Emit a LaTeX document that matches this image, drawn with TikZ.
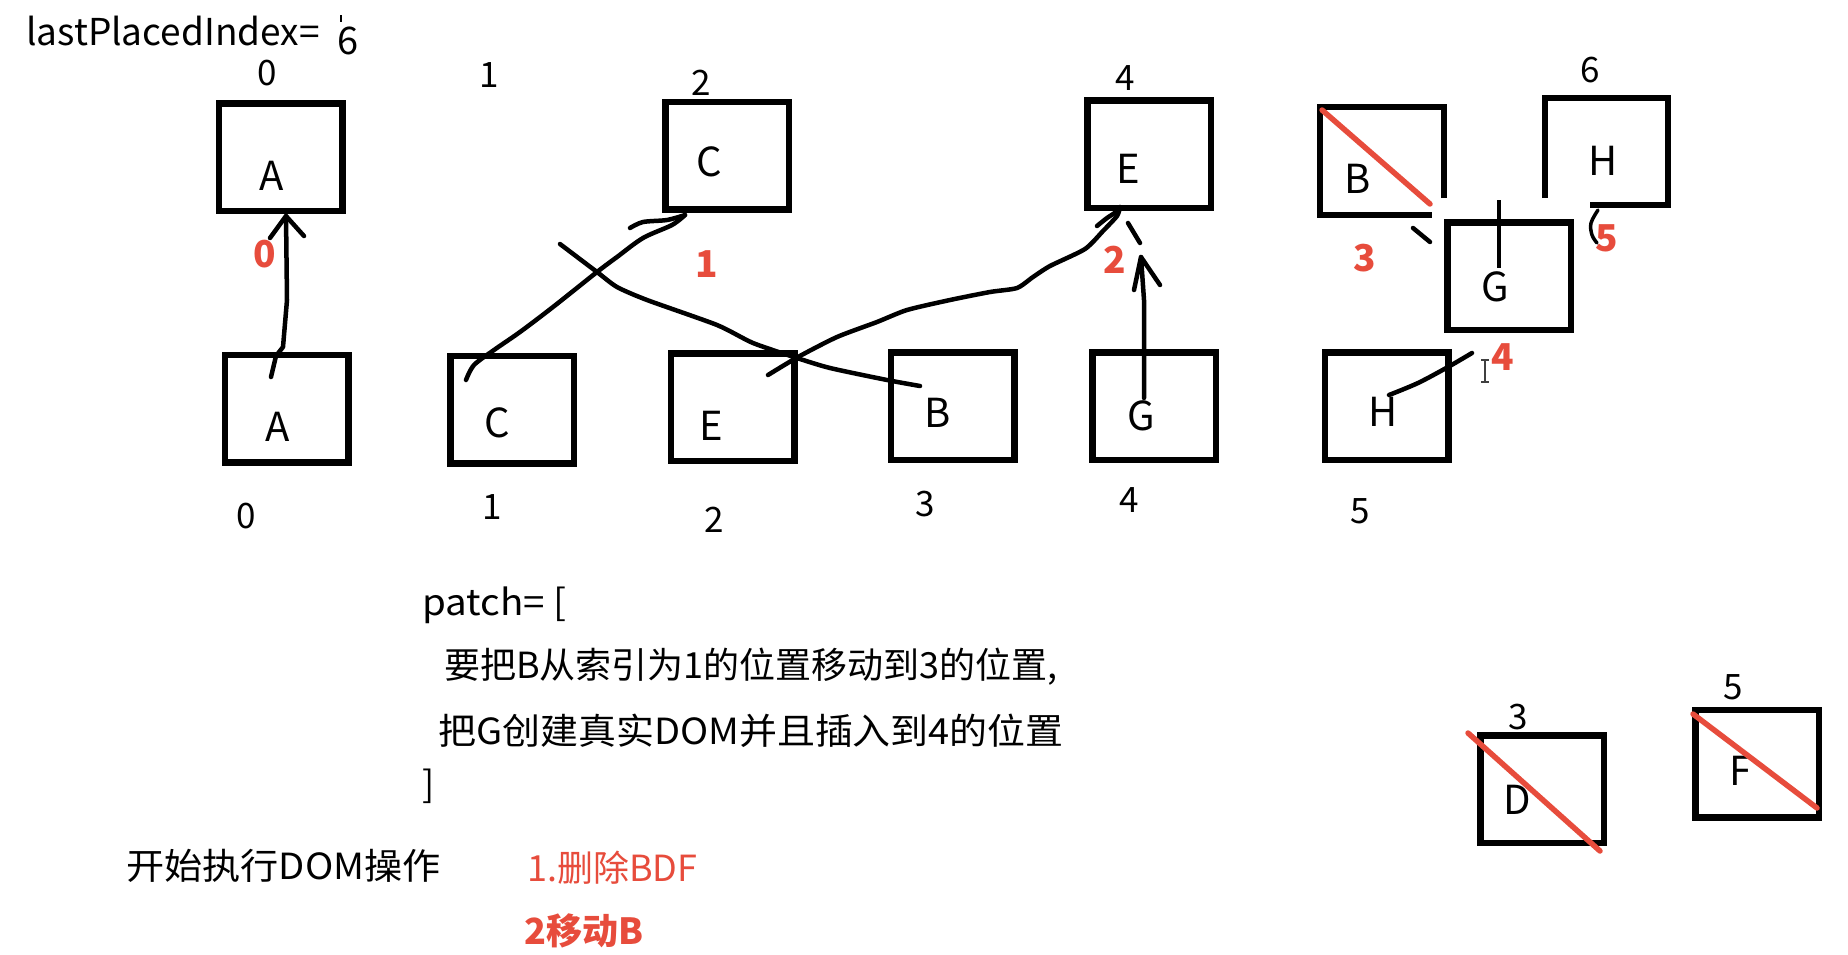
\documentclass[tikz,border=0pt]{standalone}
\usepackage{fontspec}
\setmainfont{Noto Sans CJK SC}
\usetikzlibrary{calc}
\definecolor{redmark}{RGB}{231,76,60}
\tikzset{
  box/.style={draw=black, line width=6.5pt, minimum width=123.5pt, minimum height=107.5pt, inner sep=0pt},
  boxline/.style={draw=black, line width=6.5pt},
  hand/.style={draw=black, line width=4.5pt, line cap=round, line join=round},
  strike/.style={draw=redmark, line width=5.5pt, line cap=round},
  letter/.style={font=\fontsize{40}{44}\selectfont, inner sep=0pt},
  idx/.style={font=\fontsize{35}{40}\selectfont, inner sep=0pt},
  rnum/.style={font=\fontsize{37}{40}\selectfont\bfseries, text=redmark, inner sep=0pt},
  txt/.style={font=\fontsize{36}{40}\selectfont, inner sep=0pt, anchor=base west},
}
\begin{document}
\begin{tikzpicture}[x=1pt,y=-1pt]
\useasboundingbox[fill=white] (0,0) rectangle (1848,954);

% title
\node[txt, font=\fontsize{37}{42}\selectfont] (lpi) at (26,45) {lastPlacedIndex=};
\node[idx, font=\fontsize{38}{42}\selectfont] (lpv) at (348,41) {6};
\coordinate (tk1) at (341,15);
\coordinate (tk2) at (341,22);
\draw[line width=2pt] (tk1) -- (tk2);

% top row boxes
\node[box] (tA) at (280.5,157) {};
\node[box] (tC) at (727,155.5) {};
\node[box] (tE) at (1149,154) {};
\node[box] (tG) at (1509,276) {};
\draw[boxline] (1444,198) -- (1444,107) -- (1320,107) -- (1320,215) -- (1432,215);
\draw[boxline] (1545,198) -- (1545,98) -- (1668,98) -- (1668,205) -- (1590,205);

\node[letter] (tAl) at (272,176) {A};
\node[letter] (tCl) at (709,162) {C};
\node[letter] (tEl) at (1128,169) {E};
\node[letter] (tBl) at (1358,179) {B};
\node[letter] (tHl) at (1603,161) {H};
\node[letter] (tGl) at (1495,287) {G};

\node[idx] (ti0) at (267,73) {0};
\node[idx] (ti1) at (489,75) {1};
\node[idx] (ti2) at (701,83) {2};
\node[idx] (ti4) at (1125,78) {4};
\node[idx] (ti6) at (1590,70) {6};

% bottom row boxes
\node[box] (bA) at (286.5,408.5) {};
\node[box] (bC) at (512,409.5) {};
\node[box] (bE) at (732.5,407) {};
\node[box] (bB) at (952.5,406) {};
\node[box] (bG) at (1154,406) {};
\node[box] (bH) at (1386.5,406) {};

\node[letter] (bAl) at (278,427) {A};
\node[letter] (bCl) at (497,423) {C};
\node[letter] (bEl) at (711,426) {E};
\node[letter] (bBl) at (938,413) {B};
\node[letter] (bGl) at (1141,416) {G};
\node[letter] (bHl) at (1383,412) {H};

\node[idx] (bi0) at (246,516) {0};
\node[idx] (bi1) at (492,507) {1};
\node[idx] (bi2) at (714,520) {2};
\node[idx] (bi3) at (925,504) {3};
\node[idx] (bi4) at (1129,500) {4};
\node[idx] (bi5) at (1360,511) {5};

% removed D and F
\node[box] (dD) at (1542,789) {};
\node[box] (dF) at (1757,763.5) {};
\node[letter] (dDl) at (1517,800) {D};
\node[letter] (dFl) at (1741,771) {F};
\node[idx] (dDi) at (1518,717) {3};
\node[idx] (dFi) at (1733,687) {5};

% red strike lines
\draw[strike] (1322,110) -- (1430,204);
\draw[strike] (1468,733) -- (1600,851);
\draw[strike] (1693,714) -- (1817,808);

% red order numbers
\node[rnum] (r0) at (265,254) {0};
\node[rnum] (r1) at (707,264) {1};
\node[rnum] (r2) at (1115,260) {2};
\node[rnum] (r3) at (1365,258) {3};
\node[rnum] (r4) at (1503,357) {4};
\node[rnum] (r5) at (1607,238) {5};

% hand-drawn arrows
\coordinate (sA) at (271,377);
\coordinate (eA) at (286,216);
\draw[hand] (sA) -- (276,356) -- (283,347) -- (287,300) -- (eA);
\draw[hand] (270,238) -- (eA) -- (304,236);

\coordinate (sC) at (466,380);
\coordinate (eC) at (685,215);
\draw[hand] plot[smooth, tension=0.5] coordinates {(sC) (474,365) (494,350) (520,332) (553,307) (597,272) (617,257) (643,238) (672,225) (eC)};
\draw[hand] plot[smooth, tension=0.5] coordinates {(630,228) (643,222) (667,220) (eC)};

\coordinate (sX) at (560,244);
\coordinate (eX) at (920,386);
\draw[hand] plot[smooth, tension=0.4] coordinates {(sX) (597,272) (617,287) (647,300) (717,325) (753,343) (797,358) (830,368) (887,380) (eX)};

\coordinate (sE) at (768,375);
\coordinate (eE) at (1120,207);
\draw[hand] plot[smooth, tension=0.4] coordinates {(sE) (798,357) (837,337) (877,322) (907,310) (950,300) (990,292) (1017,288) (1033,277) (1050,266) (1085,249) (1103,231) (1117,216) (eE)};
\draw[hand] plot[smooth, tension=0.5] coordinates {(1097,226) (1107,218) (1116,212) (eE)};
\draw[hand] (1128,223) -- (1140,243);

\coordinate (sG) at (1144,398);
\coordinate (eG) at (1141,257);
\draw[hand] (sG) -- (1144,300) -- (eG);
\draw[hand] (1134,290) -- (eG) -- (1160,285);

\coordinate (sH) at (1389,395);
\coordinate (eH) at (1472,353);
\draw[hand] plot[smooth, tension=0.5] coordinates {(sH) (1418,383) (1448,367) (eH)};

\coordinate (gv1) at (1499,200);
\coordinate (gv2) at (1499,268);
\draw[hand, line cap=butt] (gv1) -- (gv2);
\draw[hand] (1413,228) -- (1430,242);
\draw[line width=3.5pt, line cap=round] plot[smooth, tension=0.6] coordinates {(1598,210) (1591,223) (1592,235) (1597,243)};

% text cursor
\draw[line width=1.5pt, black!75] (1485,361) -- (1485,381) (1481,360) -- (1489,360) (1481,382) -- (1489,382);

% patch text
\node[txt] (p0) at (422,615) {\scalebox{1.07}[1]{patch= [}};
\node[txt] (p1) at (444,678) {要把B从索引为1的位置移动到3的位置,};
\node[txt] (p2) at (438,744) {\scalebox{1.054}[1]{把G创建真实DOM并且插入到4的位置}};
\node[txt] (p3) at (422,797) {]};
\node[txt] (ops) at (126,879) {\scalebox{1.06}[1]{开始执行DOM操作}};
\node[txt, text=redmark] (s1) at (527,881) {1.删除BDF};
\node[txt, text=redmark, font=\fontsize{36}{40}\selectfont\bfseries] (s2) at (524,944) {2移动B};
\end{tikzpicture}
\end{document}
